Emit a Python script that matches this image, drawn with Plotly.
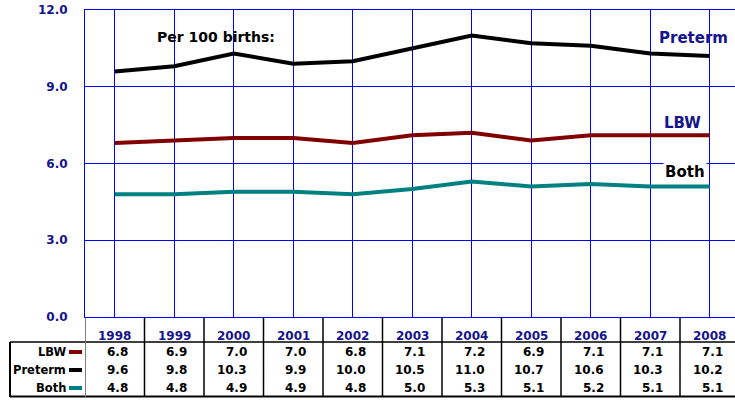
import plotly.graph_objects as go

years = [1998, 1999, 2000, 2001, 2002, 2003, 2004, 2005, 2006, 2007, 2008]
lbw = [6.8, 6.9, 7.0, 7.0, 6.8, 7.1, 7.2, 6.9, 7.1, 7.1, 7.1]
preterm = [9.6, 9.8, 10.3, 9.9, 10.0, 10.5, 11.0, 10.7, 10.6, 10.3, 10.2]
both = [4.8, 4.8, 4.9, 4.9, 4.8, 5.0, 5.3, 5.1, 5.2, 5.1, 5.1]
y_ticks = [0, 3, 6, 9, 12]

NAVY = "#14148C"
BLUE = "#0000FF"
FONT = "DejaVu Sans"

# page geometry (pixels); body margin is removed via post_script
W_FIG, H_FIG = 735, 400
PLOT_L, PLOT_T, PLOT_B = 85, 10, 317
L, T = PLOT_L, PLOT_T
B = H_FIG - PLOT_B
R = 0
PW, PH = W_FIG - L - R, H_FIG - T - B


def py(p):
    return 1 - (p - PLOT_T) / PH


def pxx(p):
    return (p - PLOT_L) / PW


series = [
    ("LBW", lbw, "#800000"),
    ("Preterm", preterm, "#000000"),
    ("Both", both, "#008080"),
]

fig = go.Figure()
for name, vals, col in series:
    fig.add_trace(go.Scatter(x=years, y=vals, mode="lines", name=name,
                             line=dict(color=col, width=4), showlegend=False,
                             hoverinfo="skip"))

ann = []
shapes = []

# chart labels
ann.append(dict(x=1999.7, y=10.95, xref="x", yref="y", text="<b>Per 100 births:</b>",
                showarrow=False, font=dict(family=FONT, size=14, color="black")))
ann.append(dict(x=2007.72, y=10.9, xref="x", yref="y", text="<b>Preterm</b>",
                showarrow=False, font=dict(family=FONT, size=15, color=NAVY)))
ann.append(dict(x=2007.55, y=7.6, xref="x", yref="y", text="<b>LBW</b>",
                showarrow=False, font=dict(family=FONT, size=15, color=NAVY)))
ann.append(dict(x=2007.58, y=5.66, xref="x", yref="y", text="<b>Both</b>",
                showarrow=False, bgcolor="white", borderpad=1,
                font=dict(family=FONT, size=15, color="black")))

# table: year header
for yr in years:
    ann.append(dict(x=yr, y=py(336), xref="x", yref="paper", text=f"<b>{yr}</b>",
                    showarrow=False, yanchor="middle",
                    font=dict(family=FONT, size=12, color=NAVY)))

row_y = [352, 370, 388]
for (name, vals, col), ry in zip(series, row_y):
    ann.append(dict(x=pxx(68), y=py(ry), xref="paper", yref="paper", text=f"<b>{name}</b>",
                    showarrow=False, xanchor="right", yanchor="middle",
                    font=dict(family=FONT, size=11.5, color="black")))
    shapes.append(dict(type="line", xref="paper", yref="paper",
                       x0=pxx(69), x1=pxx(82), y0=py(ry), y1=py(ry),
                       line=dict(color=col, width=4)))
    for yr, v in zip(years, vals):
        ann.append(dict(x=yr, y=py(ry), xref="x", yref="paper", text=f"<b>{v:.1f}</b>",
                        showarrow=False, xanchor="right", xshift=15, yanchor="middle",
                        font=dict(family=FONT, size=12, color="black")))

# table lines
shapes.append(dict(type="line", xref="paper", yref="paper", x0=pxx(10), x1=1,
                   y0=py(342), y1=py(342), line=dict(color="black", width=1.5)))
shapes.append(dict(type="line", xref="paper", yref="paper", x0=pxx(10), x1=1,
                   y0=py(396.5), y1=py(396.5), line=dict(color="black", width=2)))
shapes.append(dict(type="line", xref="paper", yref="paper", x0=pxx(10), x1=pxx(10),
                   y0=py(342), y1=py(397), line=dict(color="black", width=2)))
for yr in years[1:]:
    shapes.append(dict(type="line", xref="x", yref="paper", x0=yr - 0.5, x1=yr - 0.5,
                       y0=py(318), y1=py(397), line=dict(color="black", width=1.5)))
shapes.append(dict(type="line", xref="x", yref="paper", x0=years[0] - 0.5, x1=years[0] - 0.5,
                   y0=py(318), y1=py(397), line=dict(color="#808080", width=2)))

fig.update_layout(
    width=W_FIG, height=H_FIG,
    margin=dict(l=L, r=R, t=T, b=B, pad=0),
    plot_bgcolor="white", paper_bgcolor="white",
    annotations=ann, shapes=shapes,
    hovermode=False,
    xaxis=dict(range=[years[0] - 0.5, years[0] - 0.5 + PW / 59.5],
               tick0=years[0], dtick=1, showgrid=True, gridcolor=BLUE, gridwidth=1,
               showticklabels=False, ticks="", zeroline=False,
               showline=True, linecolor=BLUE, linewidth=1, mirror=True),
    yaxis=dict(range=[0, 12], tickvals=y_ticks, ticktext=[f"<b>{v:.1f}</b>" for v in y_ticks],
               showgrid=True, gridcolor=BLUE, gridwidth=1, zeroline=False,
               showline=True, linecolor=BLUE, linewidth=1, ticks="",
               ticklabelstandoff=14, ticklabeloverflow="allow",
               tickfont=dict(family=FONT, size=12, color=NAVY)),
    font=dict(family=FONT),
)

fig.write_html("out.html",
               config={"displayModeBar": False, "staticPlot": True},
               post_script="document.body.style.margin='0';document.body.style.overflow='hidden';")
